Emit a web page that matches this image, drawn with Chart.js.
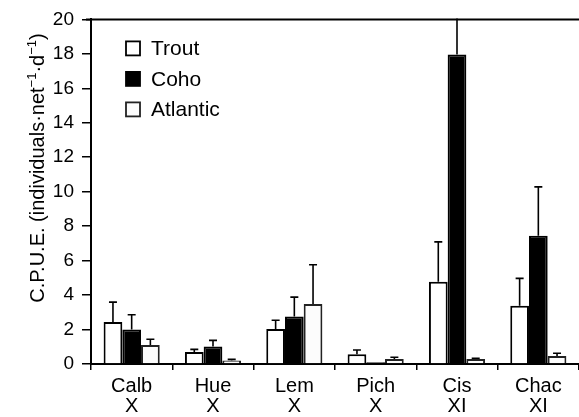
<!DOCTYPE html>
<html>
<head>
<meta charset="utf-8">
<script src="https://cdn.jsdelivr.net/npm/chart.js@4"></script>
<style>
  html, body { margin: 0; padding: 0; background: #fff; }
  #wrap { width: 579px; height: 417px; }
</style>
</head>
<body>
<div id="wrap"><canvas id="cpueChart"></canvas></div>
<script>
// sites and their zone
const sites = ["Calb", "Hue", "Lem", "Pich", "Cis", "Chac"];
const zones = ["X", "X", "X", "X", "XI", "XI"];
const seriesNames = ["Trout", "Coho", "Atlantic"];

// mean catch per unit effort
const troutMean = [2.44, 0.69, 2.03, 0.56, 4.78, 3.38];
const cohoMean = [2.0, 1.02, 2.75, 0.1, 17.97, 7.44];
const atlanticMean = [1.1, 0.21, 3.48, 0.29, 0.29, 0.46];

// standard errors (upper bar only)
const troutSE = [1.15, 0.16, 0.51, 0.25, 2.31, 1.59];
const cohoSE = [0.86, 0.35, 1.13, 0, 2.6, 2.84];
const atlanticSE = [0.34, 0.06, 2.28, 0.1, 0.04, 0.16];

const yMin = 0, yMax = 20, yStep = 2;

const FONT = '"Liberation Sans", Arial, Helvetica, sans-serif';
const fills = ["#ffffff", "#000000", "#fcfcfc"];
const borders = ["#000000", "#000000", "#222222"];
const errors = [troutSE, cohoSE, atlanticSE];

const errorBars = {
  id: "errorBars",
  afterDatasetsDraw(chart) {
    const { ctx, chartArea, scales: { y } } = chart;
    ctx.save();
    ctx.beginPath();
    ctx.rect(chartArea.left, chartArea.top - 1, chartArea.width, chartArea.height + 1);
    ctx.clip();
    ctx.strokeStyle = "#000";
    ctx.lineWidth = 1.6;
    chart.data.datasets.forEach((ds, di) => {
      const meta = chart.getDatasetMeta(di);
      meta.data.forEach((bar, i) => {
        const se = errors[di][i];
        if (!se) return;
        const top = y.getPixelForValue(ds.data[i] + se);
        ctx.beginPath();
        ctx.moveTo(bar.x, bar.y);
        ctx.lineTo(bar.x, top);
        ctx.moveTo(bar.x - 4, top);
        ctx.lineTo(bar.x + 4, top);
        ctx.stroke();
      });
    });
    ctx.restore();
  }
};

const decorations = {
  id: "decorations",
  afterDraw(chart) {
    const { ctx, chartArea } = chart;
    ctx.save();

    // top frame line
    ctx.strokeStyle = "#000";
    ctx.lineWidth = 2;
    ctx.beginPath();
    ctx.moveTo(chartArea.left - 5, chartArea.top);
    ctx.lineTo(chartArea.right, chartArea.top);
    ctx.stroke();

    // legend
    ctx.font = "21px " + FONT;
    ctx.textBaseline = "middle";
    seriesNames.forEach((name, i) => {
      const cy = chartArea.top + 29 + i * 30.5;
      const bx = chartArea.left + 35;
      ctx.fillStyle = fills[i];
      ctx.fillRect(bx, cy - 7, 14, 14);
      ctx.strokeStyle = borders[i];
      ctx.lineWidth = 1.8;
      ctx.strokeRect(bx, cy - 7, 14, 14);
      ctx.fillStyle = "#000";
      ctx.fillText(name, bx + 25, cy + 1);
    });

    // y axis title with superscripts
    const parts = [
      ["C.P.U.E. (individuals·net", false],
      ["−1", true],
      ["·d", false],
      ["−1", true],
      [")", false]
    ];
    const big = "20px " + FONT, small = "13px " + FONT;
    let total = 0;
    parts.forEach(([t, sup]) => { ctx.font = sup ? small : big; total += ctx.measureText(t).width; });
    ctx.translate(44, 168);
    ctx.rotate(-Math.PI / 2);
    ctx.textBaseline = "alphabetic";
    ctx.fillStyle = "#000";
    let x = -total / 2;
    parts.forEach(([t, sup]) => {
      ctx.font = sup ? small : big;
      ctx.fillText(t, x, sup ? -8 : 0);
      x += ctx.measureText(t).width;
    });
    ctx.restore();
  }
};

new Chart(document.getElementById("cpueChart"), {
  type: "bar",
  data: {
    labels: sites.map((s, i) => [s, zones[i]]),
    datasets: [
      { label: seriesNames[0], data: troutMean },
      { label: seriesNames[1], data: cohoMean },
      { label: seriesNames[2], data: atlanticMean }
    ].map((ds, i) => Object.assign(ds, {
      backgroundColor: fills[i],
      borderColor: borders[i],
      borderWidth: 2,
      categoryPercentage: 0.69,
      barPercentage: 1.0
    }))
  },
  options: {
    responsive: true,
    maintainAspectRatio: false,
    animation: false,
    layout: { padding: { top: 17, right: 0, left: 0, bottom: 0 } },
    plugins: {
      legend: { display: false },
      tooltip: { enabled: false }
    },
    scales: {
      x: {
        afterFit(scale) { scale.height = 53; },
        grid: {
          offset: true,
          drawOnChartArea: false,
          drawTicks: true,
          tickLength: 6,
          color: "#000",
          lineWidth: 1.5
        },
        border: { display: true, color: "#000", width: 2 },
        ticks: {
          color: "#000",
          padding: 6,
          font: { family: FONT, size: 20, lineHeight: 1.0 },
          maxRotation: 0
        }
      },
      y: {
        min: yMin,
        max: yMax,
        afterFit(scale) { scale.width = 91; },
        grid: {
          drawOnChartArea: false,
          drawTicks: true,
          tickLength: 9,
          color: "#000",
          lineWidth: 1.5
        },
        border: { display: true, color: "#000", width: 2 },
        ticks: {
          stepSize: yStep,
          color: "#000",
          padding: 8,
          font: { family: FONT, size: 19 }
        }
      }
    }
  },
  plugins: [errorBars, decorations]
});
</script>
</body>
</html>
